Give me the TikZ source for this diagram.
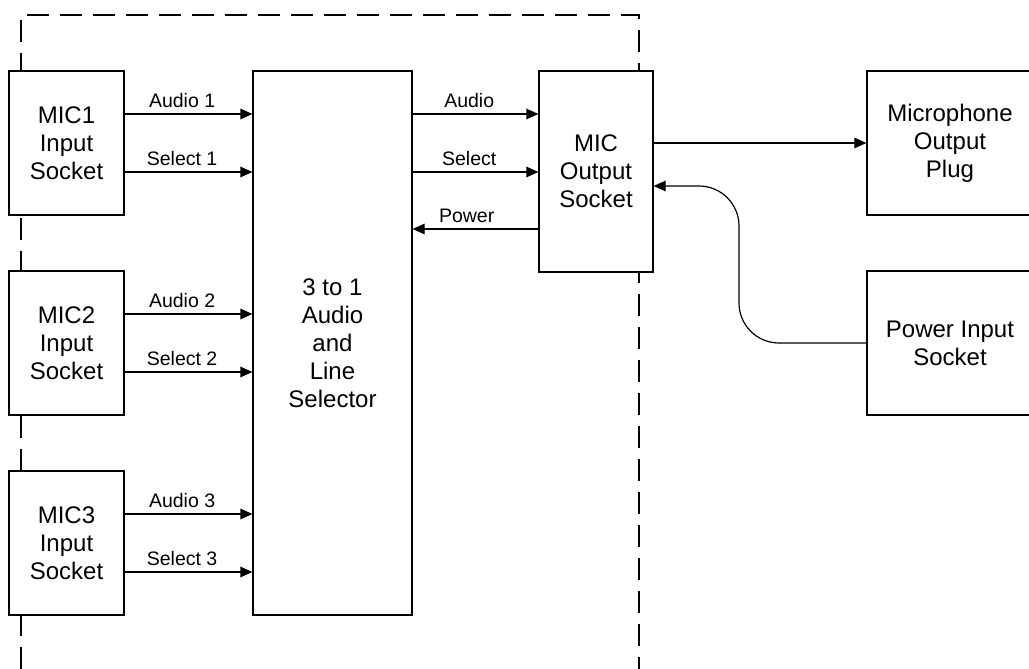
\documentclass[tikz,border=0pt]{standalone}
\usepackage{fontspec}
\setmainfont{Liberation Sans}
\usetikzlibrary{arrows.meta, calc, positioning}

\begin{document}
\begin{tikzpicture}[x=1pt, y=-1pt,
	block/.style={draw, line width=1.2pt, fill=white, align=center, inner sep=0pt,
		font=\fontsize{24}{28}\selectfont},
	conn/.style={line width=1.2pt, -{Triangle[length=12pt, width=10.5pt]}},
	lbl/.style={above, inner sep=6pt, font=\fontsize{19.5}{22}\selectfont},
	frame/.style={line width=1.2pt, dash pattern=on 22pt off 11pt}]
	\useasboundingbox (0,0) rectangle (1029,669);
	% dashed enclosure
	\draw[frame] (21,669) -- (21,15) -- (639,15) -- (639,669);
	% input sockets
	\foreach \i/\y in {1/143, 2/343, 3/543}
	\node[block, minimum width=115pt, minimum height=144pt] (mic\i) at (66.5,\y) {MIC\i\\Input\\Socket};
	\node[block, minimum width=159pt, minimum height=544pt] (sel) at (332.5,343) {3 to 1\\Audio\\and\\Line\\Selector};
	\node[block, minimum width=114pt, minimum height=201pt] (outsock) at (596,171.5) {MIC\\Output\\Socket};
	\node[block, minimum width=166pt, minimum height=144pt] (plug) at (950,143) {Microphone\\Output\\Plug};
	\node[block, minimum width=166pt, minimum height=144pt] (pwr) at (950,343) {Power Input\\Socket};
	% lines into the selector
	\foreach \i in {1,2,3} {
		\coordinate (au\i) at ([yshift=29pt]mic\i.east);
		\coordinate (se\i) at ([yshift=-29pt]mic\i.east);
		\draw[conn] (au\i) -- node[lbl, pos=0.45] {Audio \i} (au\i -| sel.west);
		\draw[conn] (se\i) -- node[lbl, pos=0.45] {Select \i} (se\i -| sel.west);
	}
	% selector <-> output socket
	\coordinate (au) at ([yshift=57.5pt]outsock.west);
	\coordinate (se) at ([yshift=-0.5pt]outsock.west);
	\coordinate (pw) at ([yshift=-57.5pt]outsock.west);
	\draw[conn] (au -| sel.east) -- node[lbl, pos=0.45] {Audio} (au);
	\draw[conn] (se -| sel.east) -- node[lbl, pos=0.45] {Select} (se);
	\draw[conn] (pw) -- node[lbl, pos=0.57] {Power} (pw -| sel.east);
	% output and power feed
	\draw[conn] (outsock.east |- plug.west) -- (plug.west);
	\coordinate (pin) at ([yshift=-14.5pt]outsock.east);
	\coordinate (bend) at (739,264);
	\draw[conn, rounded corners=40pt] (pwr.west) -| (bend) |- (pin);
\end{tikzpicture}
\end{document}
